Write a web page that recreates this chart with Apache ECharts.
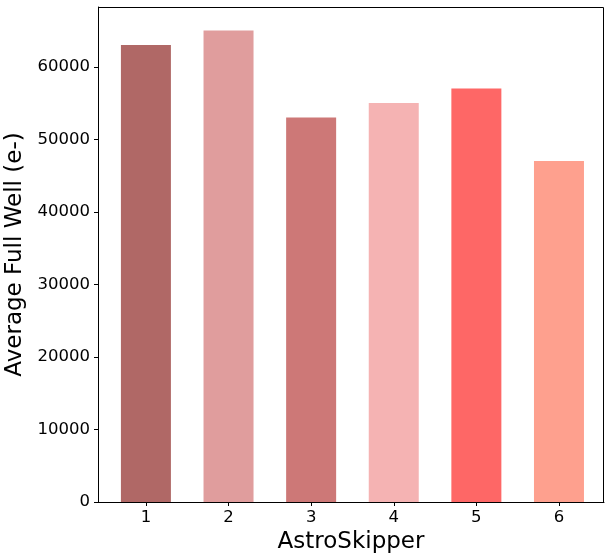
<!DOCTYPE html>
<html>
<head>
<meta charset="utf-8">
<script src="https://cdn.jsdelivr.net/npm/echarts@6/dist/echarts.min.js"></script>
<style>
  html, body { margin: 0; padding: 0; background: #fff; }
  #chart { width: 605px; height: 557px; }
</style>
</head>
<body>
<div id="chart"></div>
<script>
// Average full well per AstroSkipper unit
const units = [1, 2, 3, 4, 5, 6];
const fullWell = [63000, 65000, 53000, 55000, 57000, 47000];
const barColors = ['#b06866', '#e09d9d', '#cd7877', '#f5b3b3', '#fe6766', '#fea08e'];
const yTicks = [0, 10000, 20000, 30000, 40000, 50000, 60000];

const font = 'DejaVu Sans';
const chart = echarts.init(document.getElementById('chart'), null, { renderer: 'canvas' });

const G = { left: 98, right: 1, top: 7, bottom: 55 };

chart.setOption({
  animation: false,
  backgroundColor: '#ffffff',
  grid: { left: G.left, right: G.right, top: G.top, bottom: G.bottom, containLabel: false, outerBoundsMode: 'none' },
  xAxis: {
    type: 'value',
    min: 0.42,
    max: 6.545,
    name: 'AstroSkipper',
    nameLocation: 'middle',
    nameGap: 27,
    nameTextStyle: { fontFamily: font, fontSize: 23, color: '#000' },
    splitLine: { show: false },
    axisLine: { show: true, lineStyle: { color: '#000', width: 1 } },
    axisTick: { show: true, customValues: units, length: 4, lineStyle: { color: '#000' } },
    axisLabel: {
      customValues: units,
      fontFamily: font, fontSize: 16.5, color: '#000', margin: 7,
      formatter: v => String(v)
    }
  },
  yAxis: {
    type: 'value',
    min: 0,
    max: 68250,
    name: 'Average Full Well (e-)',
    nameLocation: 'middle',
    nameGap: 66,
    nameTextStyle: { fontFamily: font, fontSize: 23, color: '#000' },
    splitLine: { show: false },
    axisLine: { show: true, lineStyle: { color: '#000', width: 1 } },
    axisTick: { show: true, customValues: yTicks, length: 4, lineStyle: { color: '#000' } },
    axisLabel: {
      customValues: yTicks,
      fontFamily: font, fontSize: 16.5, color: '#000', margin: 8,
      formatter: v => String(v)
    }
  },
  series: [{
    type: 'bar',
    barWidth: 50,
    data: units.map((u, i) => ({
      value: [u, fullWell[i]],
      itemStyle: { color: barColors[i] }
    }))
  }],
  graphic: [{
    // top and right frame lines
    type: 'polyline',
    shape: { points: [[G.left, G.top + 0.5], [605 - G.right - 0.5, G.top + 0.5], [605 - G.right - 0.5, 557 - G.bottom]] },
    style: { stroke: '#000', lineWidth: 1, fill: null },
    silent: true
  }]
});
</script>
</body>
</html>
